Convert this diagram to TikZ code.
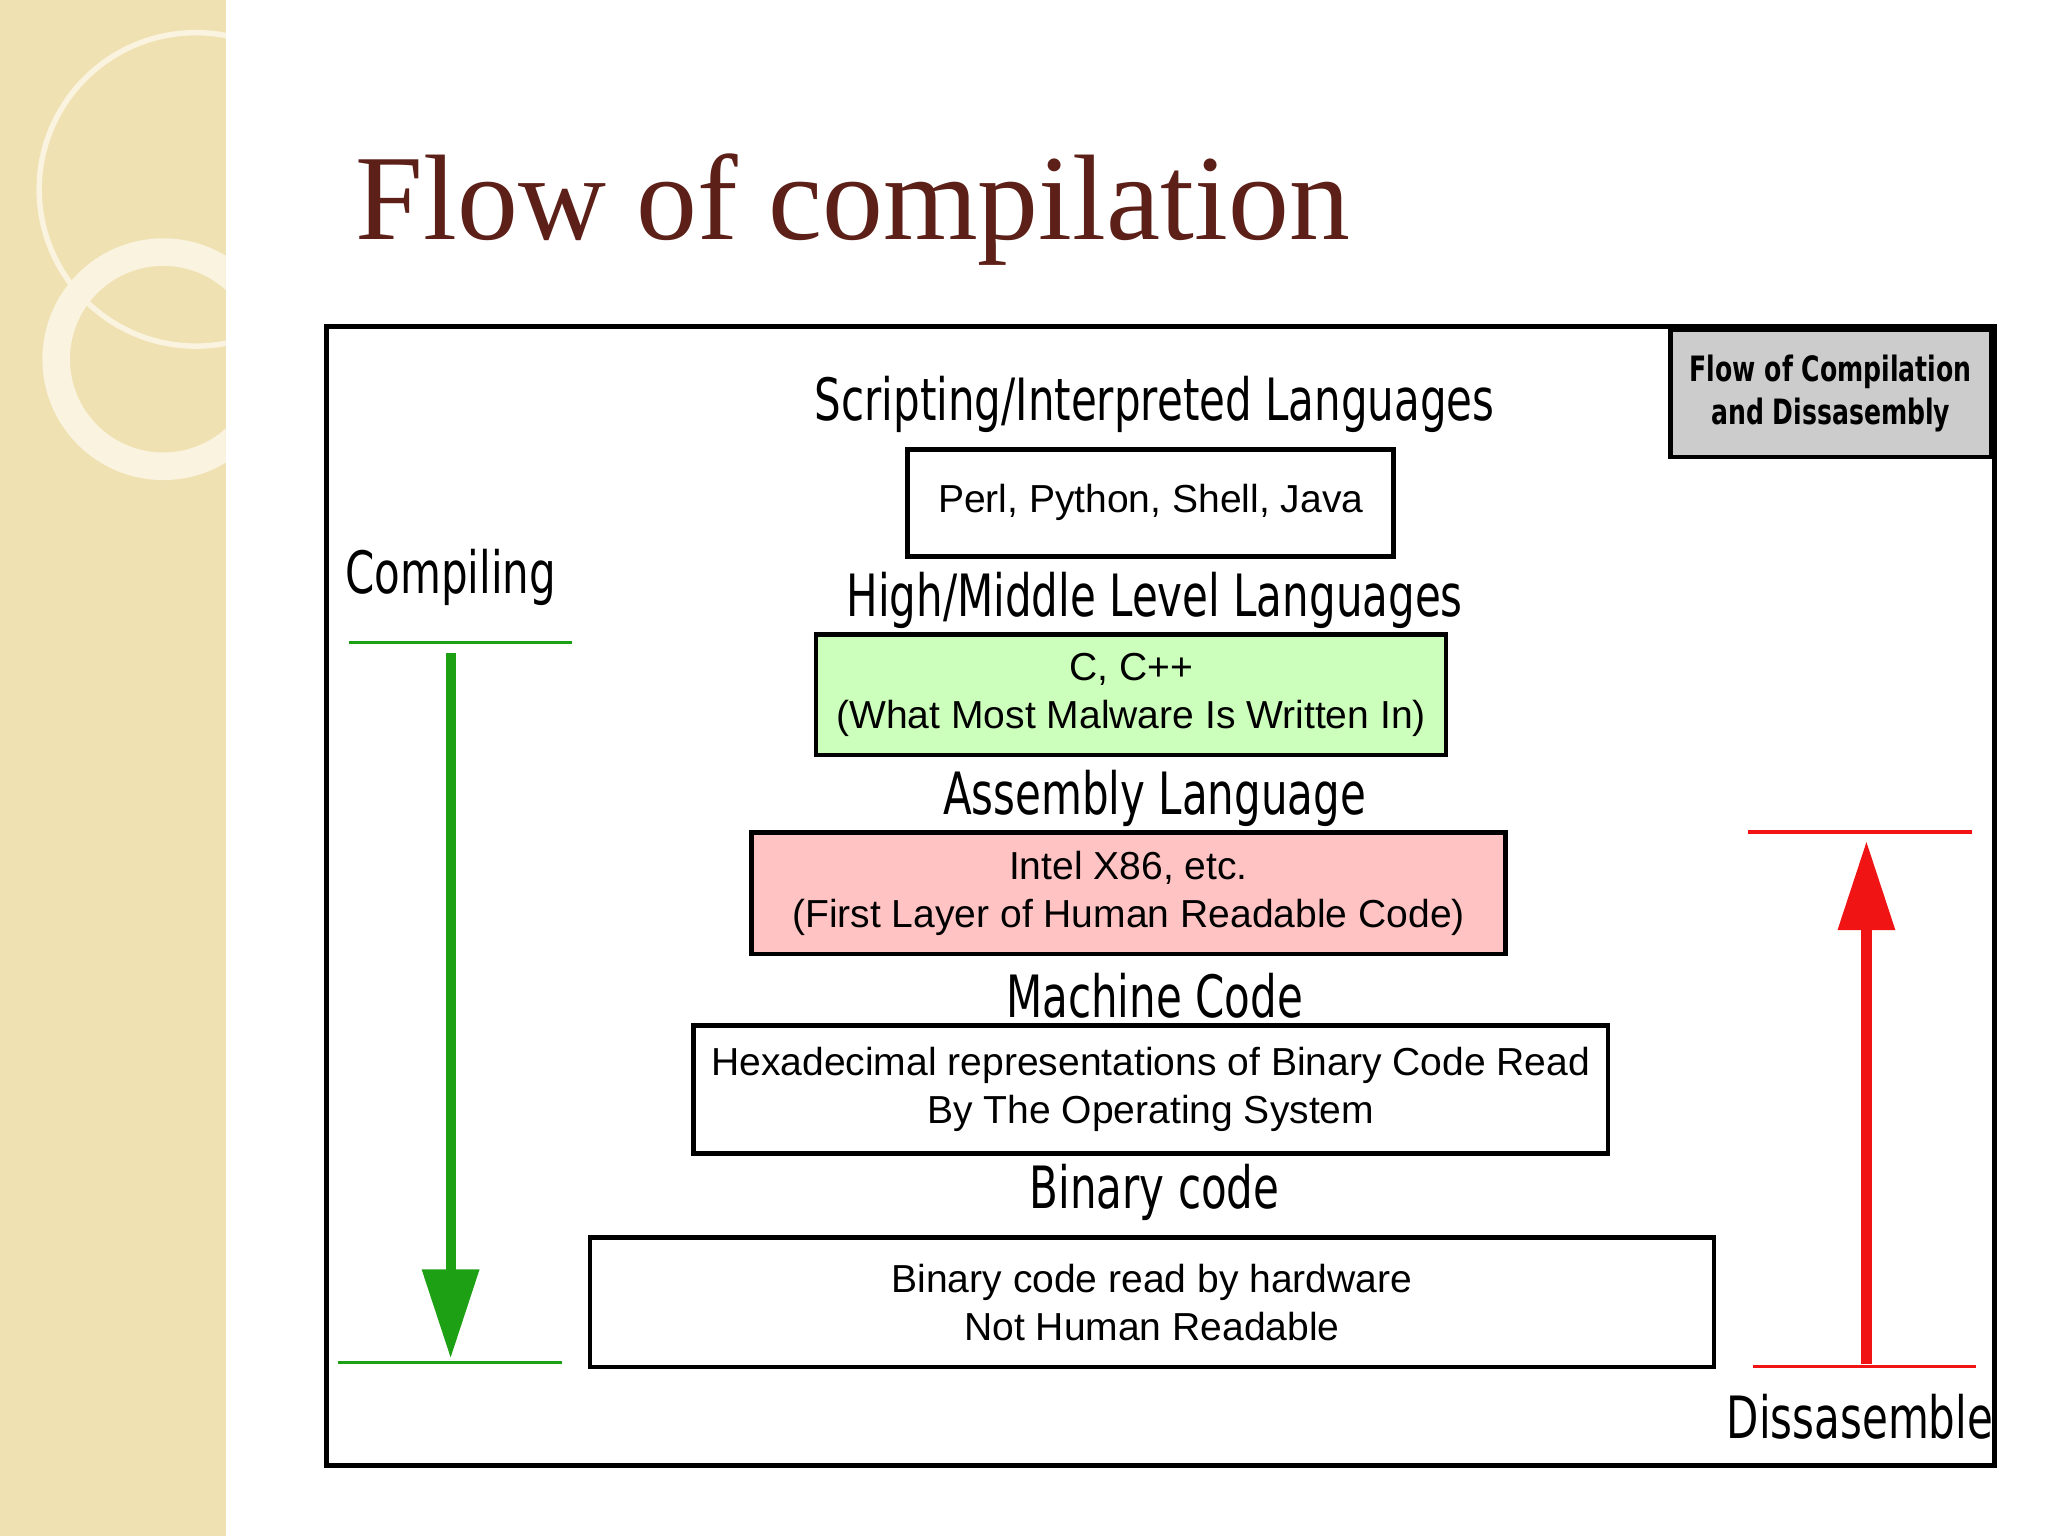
\documentclass[tikz,border=0pt]{standalone}
\usepackage{fontspec}
\setmainfont{Liberation Serif}
\setsansfont{Liberation Sans}
\newfontfamily\condfont[FakeStretch=0.72]{DejaVu Sans}
\usetikzlibrary{arrows.meta}
\definecolor{titlebrown}{RGB}{92,32,24}
\definecolor{beige}{RGB}{240,225,178}
\definecolor{boxgreen}{RGB}{204,255,187}
\definecolor{boxpink}{RGB}{255,195,195}
\definecolor{arrowgreen}{RGB}{30,160,20}
\definecolor{arrowred}{RGB}{240,20,20}
\tikzset{
  layer/.style={draw=black, line width=1pt, align=center, font=\sffamily\fontsize{8.5}{10.5}\selectfont, inner sep=0pt},
  header/.style={font=\condfont\fontsize{12.7}{14}\selectfont},
}
\begin{document}
\begin{tikzpicture}[x=0.01cm,y=-0.01cm]
\useasboundingbox (0,0) rectangle (1568,1176);
% slide background
\fill[beige] (0,0) rectangle (173,1176);
\begin{scope}
\clip (0,0) rectangle (173,1176);
\draw[white!60!beige, line width=1.2pt] (150,145) circle (120);
\draw[white!60!beige, line width=6pt] (125,275) circle (82);
\end{scope}
\node[anchor=base west, text=titlebrown, font=\fontsize{26.5}{30}\selectfont] (title) at (260,183) {Flow of compilation};
% frame
\draw[line width=1pt] (250,250) rectangle (1527,1122);
\node[draw, line width=1pt, fill=black!20, align=center, font=\condfont\bfseries\fontsize{7.6}{9.5}\selectfont, anchor=north east, minimum width=2.45cm, minimum height=0.97cm] (legend) at (1526,251) {Flow of Compilation\\and Dissasembly};
% layers
\node[header] (h1) at (884,310) {Scripting/Interpreted Languages};
\node[layer, minimum width=3.72cm, minimum height=0.82cm] (scripting) at (881,385) {Perl, Python, Shell, Java};
\node[header] (h2) at (884,460) {High/Middle Level Languages};
\node[layer, fill=boxgreen, minimum width=4.82cm, minimum height=0.92cm] (highlevel) at (866,532) {C, C++\\(What Most Malware Is Written In)};
\node[header] (h3) at (884,611) {Assembly Language};
\node[layer, fill=boxpink, minimum width=5.77cm, minimum height=0.93cm] (assembly) at (864,684) {Intel X86, etc.\\(First Layer of Human Readable Code)};
\node[header] (h4) at (884,762) {Machine Code};
\node[layer, minimum width=7.00cm, minimum height=0.98cm] (machine) at (881,834) {Hexadecimal representations of Binary Code Read\\By The Operating System};
\node[header] (h5) at (884,913) {Binary code};
\node[layer, minimum width=8.60cm, minimum height=0.99cm] (binary) at (882,997) {Binary code read by hardware\\Not Human Readable};
% compiling
\node[header] (compiling) at (345,442) {Compiling};
\coordinate (cTop) at (345,500);
\coordinate (cBot) at (345,1040);
\draw[arrowgreen, line width=0.7pt] (267,492) -- (438,492);
\draw[arrowgreen, line width=0.7pt] (259,1043) -- (430,1043);
\draw[arrowgreen, line width=2.2pt, -{Triangle[length=0.68cm, width=0.42cm]}] (cTop) -- (cBot);
% dissasemble
\node[header] (dis) at (1424,1085) {Dissasemble};
\coordinate (dBot) at (1429,1044);
\coordinate (dTop) at (1429,644);
\draw[arrowred, line width=0.7pt] (1338,637) -- (1510,637);
\draw[arrowred, line width=0.7pt] (1342,1046) -- (1513,1046);
\draw[arrowred, line width=2.2pt, -{Triangle[length=0.68cm, width=0.42cm]}] (dBot) -- (dTop);
\end{tikzpicture}
\end{document}
